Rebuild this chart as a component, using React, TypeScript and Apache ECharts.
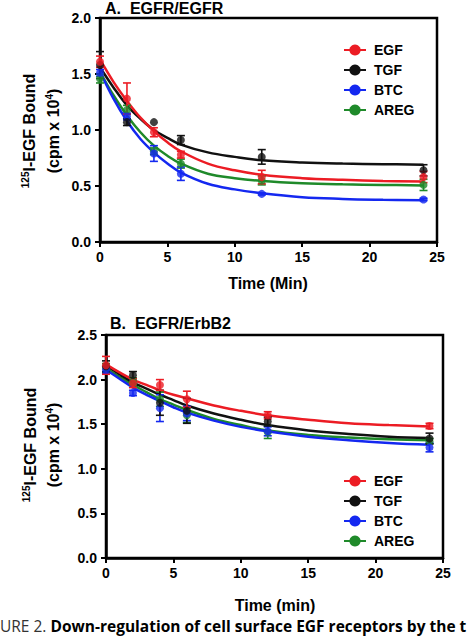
import React, { useEffect, useRef } from "react";
import * as echarts from "echarts";

// ---------- data ----------
const seriesNames = ["EGF", "TGF", "BTC", "AREG"];
const seriesColors = ["#ec1c24", "#111111", "#1428f0", "#1f8a2a"];

const timePoints = [0, 2, 4, 6, 12, 24];
const fitTimes = [0, 1, 2, 3, 4, 5, 6, 8, 10, 12, 15, 18, 21, 24];

const xTicks = [0, 5, 10, 15, 20, 25];

// Panel A: EGFR/EGFR
const egfA = [1.61, 1.28, 0.98, 0.78, 0.58, 0.58];
const egfAErr = [0.05, 0.14, 0.04, 0.03, 0.06, 0.05];
const tgfA = [1.58, 1.07, 1.07, 0.91, 0.76, 0.64];
const tgfAErr = [0.12, 0.03, 0.0, 0.04, 0.065, 0.05];
const btcA = [1.51, 1.12, 0.79, 0.61, 0.43, 0.38];
const btcAErr = [0.03, 0.03, 0.07, 0.06, 0.01, 0.01];
const aregA = [1.46, 1.18, 0.81, 0.7, 0.55, 0.51];
const aregAErr = [0.04, 0.04, 0.03, 0.04, 0.04, 0.05];

const egfAFit = [1.63, 1.43, 1.26, 1.11, 0.99, 0.89, 0.81, 0.7, 0.64, 0.6, 0.57, 0.555, 0.545, 0.54];
const tgfAFit = [1.56, 1.38, 1.22, 1.1, 1.0, 0.93, 0.87, 0.8, 0.76, 0.73, 0.71, 0.7, 0.695, 0.69];
const btcAFit = [1.52, 1.28, 1.08, 0.92, 0.8, 0.7, 0.62, 0.52, 0.47, 0.435, 0.4, 0.385, 0.377, 0.372];
const aregAFit = [1.52, 1.31, 1.13, 0.98, 0.86, 0.77, 0.7, 0.61, 0.57, 0.545, 0.525, 0.515, 0.51, 0.505];

// Panel B: EGFR/ErbB2
const egfB = [2.16, 1.96, 1.94, 1.78, 1.6, 1.48];
const egfBErr = [0.1, 0.05, 0.06, 0.09, 0.04, 0.03];
const tgfB = [2.15, 2.05, 1.74, 1.65, 1.53, 1.34];
const tgfBErr = [0.06, 0.04, 0.14, 0.14, 0.05, 0.06];
const btcB = [2.11, 1.85, 1.68, 1.62, 1.42, 1.24];
const btcBErr = [0.04, 0.03, 0.15, 0.08, 0.05, 0.05];
const aregB = [2.13, 1.98, 1.78, 1.6, 1.41, 1.31];
const aregBErr = [0.05, 0.04, 0.08, 0.08, 0.07, 0.03];

const egfBFit = [2.17, 2.08, 2.0, 1.94, 1.88, 1.83, 1.79, 1.71, 1.65, 1.6, 1.55, 1.51, 1.49, 1.475];
const tgfBFit = [2.16, 2.06, 1.97, 1.9, 1.83, 1.77, 1.71, 1.62, 1.55, 1.49, 1.43, 1.39, 1.36, 1.345];
const btcBFit = [2.11, 2.01, 1.91, 1.83, 1.76, 1.69, 1.63, 1.54, 1.47, 1.42, 1.36, 1.32, 1.29, 1.27];
const aregBFit = [2.13, 2.03, 1.94, 1.86, 1.78, 1.72, 1.66, 1.56, 1.49, 1.43, 1.38, 1.35, 1.33, 1.32];

const panelATitle = "A.  EGFR/EGFR";
const panelBTitle = "B.  EGFR/ErbB2";
const xTitleA = "Time (Min)";
const xTitleB = "Time (min)";
const captionLead = "URE 2. ";
const captionBold = "Down-regulation of cell surface EGF receptors by the t";

const FONT = "Liberation Sans, Arial, sans-serif";

type SetDef = { name: string; color: string; mean: number[]; err: number[]; fit: number[] };

const setsA: SetDef[] = [
  { name: "AREG", color: seriesColors[3], mean: aregA, err: aregAErr, fit: aregAFit },
  { name: "BTC", color: seriesColors[2], mean: btcA, err: btcAErr, fit: btcAFit },
  { name: "TGF", color: seriesColors[1], mean: tgfA, err: tgfAErr, fit: tgfAFit },
  { name: "EGF", color: seriesColors[0], mean: egfA, err: egfAErr, fit: egfAFit },
];
const setsB: SetDef[] = [
  { name: "AREG", color: seriesColors[3], mean: aregB, err: aregBErr, fit: aregBFit },
  { name: "BTC", color: seriesColors[2], mean: btcB, err: btcBErr, fit: btcBFit },
  { name: "TGF", color: seriesColors[1], mean: tgfB, err: tgfBErr, fit: tgfBFit },
  { name: "EGF", color: seriesColors[0], mean: egfB, err: egfBErr, fit: egfBFit },
];

function buildPanel(sets: SetDef[], gi: number, tag: string) {
  const lines: any[] = [];
  const others: any[] = [];
  sets.forEach((s) => {
    lines.push({
      name: s.name,
      type: "line",
      xAxisIndex: gi,
      yAxisIndex: gi,
      data: fitTimes.map((t, i) => [t, s.fit[i]]),
      smooth: 0.4,
      symbol: "circle",
      symbolSize: 7,
      showSymbol: false,
      lineStyle: { color: s.color, width: 2.5 },
      itemStyle: { color: s.color },
      z: 2,
    });
    others.push({
      name: s.name + "-err-" + tag,
      type: "custom",
      xAxisIndex: gi,
      yAxisIndex: gi,
      data: timePoints
        .map((t, i) => [t, s.mean[i] - s.err[i], s.mean[i] + s.err[i], s.err[i]])
        .filter((d) => d[3] > 0),
      encode: { x: 0, y: [1, 2] },
      renderItem: (params: any, api: any) => {
        const x = api.value(0);
        const lo = api.coord([x, api.value(1)]);
        const hi = api.coord([x, api.value(2)]);
        const w = 4;
        const st = { stroke: s.color, lineWidth: 1.6 };
        return {
          type: "group",
          children: [
            { type: "line", shape: { x1: lo[0], y1: lo[1], x2: hi[0], y2: hi[1] }, style: st },
            { type: "line", shape: { x1: lo[0] - w, y1: lo[1], x2: lo[0] + w, y2: lo[1] }, style: st },
            { type: "line", shape: { x1: hi[0] - w, y1: hi[1], x2: hi[0] + w, y2: hi[1] }, style: st },
          ],
        };
      },
      z: 3,
    });
    others.push({
      name: s.name + "-pts-" + tag,
      type: "scatter",
      xAxisIndex: gi,
      yAxisIndex: gi,
      data: timePoints.map((t, i) => [t, s.mean[i]]),
      symbol: "circle",
      symbolSize: 8,
      itemStyle: { color: s.color },
      z: 4,
    });
  });
  return { lines, others };
}

function axisPair(gi: number, yMax: number) {
  const common = {
    gridIndex: gi,
    type: "value" as const,
    axisLine: { show: true, lineStyle: { color: "#000", width: 2.5 } },
    axisTick: { show: true, length: 5, lineStyle: { color: "#000", width: 2 } },
    splitLine: { show: false },
  };
  return {
    x: {
      ...common,
      min: xTicks[0],
      max: xTicks[xTicks.length - 1],
      interval: 5,
      axisLabel: { color: "#000", fontSize: 14, fontWeight: "bold", fontFamily: FONT, margin: 8 },
    },
    y: {
      ...common,
      min: 0,
      max: yMax,
      interval: 0.5,
      axisLabel: {
        color: "#000",
        fontSize: 14,
        fontWeight: "bold",
        fontFamily: FONT,
        margin: 9,
        formatter: (v: number) => v.toFixed(1),
      },
    },
  };
}

function yTitle(cx1: number, cx2: number, cy: number) {
  const base = { fill: "#000", fontFamily: FONT, fontWeight: "bold" };
  const rich = {
    s: { fontSize: 10, fontWeight: "bold", fontFamily: FONT, verticalAlign: "top", lineHeight: 18 },
    m: { fontSize: 16, fontWeight: "bold", fontFamily: FONT, lineHeight: 18 },
  };
  return [
    {
      type: "text",
      x: cx1,
      y: cy,
      rotation: Math.PI / 2,
      style: { text: "{s|125}{m|I-EGF Bound}", align: "center", verticalAlign: "middle", ...base, rich },
    },
    {
      type: "text",
      x: cx2,
      y: cy,
      rotation: Math.PI / 2,
      style: { text: "{m|(cpm x 10}{s|4}{m|)}", align: "center", verticalAlign: "middle", ...base, rich },
    },
  ];
}

function plainText(text: string, x: number, y: number, align: string, size = 16) {
  return {
    type: "text",
    x,
    y,
    style: { text, align, verticalAlign: "middle", fill: "#000", fontFamily: FONT, fontWeight: "bold", fontSize: size },
  };
}

export default function App() {
  const ref = useRef<HTMLDivElement>(null);
  useEffect(() => {
    if (!ref.current) return;
    const chart = echarts.init(ref.current, null, { renderer: "svg" });
    const pA = buildPanel(setsA, 0, "A");
    const pB = buildPanel(setsB, 1, "B");
    const axA = axisPair(0, 2.0);
    const axB = axisPair(1, 2.5);
    const legendCommon = {
      orient: "vertical",
      left: 338,
      itemWidth: 22,
      itemHeight: 14,
      itemGap: 6,
      data: seriesNames,
      selectedMode: false,
      textStyle: { color: "#000", fontSize: 14, fontWeight: "bold", fontFamily: FONT, padding: [0, 0, 0, 3] },
    };
    chart.setOption({
      animation: false,
      backgroundColor: "#fff",
      textStyle: { fontFamily: FONT },
      grid: [
        { left: 100, top: 18, width: 337, height: 224, show: true, borderColor: "#000", borderWidth: 2.5, backgroundColor: "transparent" },
        { left: 106, top: 335, width: 337, height: 223, show: true, borderColor: "#000", borderWidth: 2.5, backgroundColor: "transparent" },
      ],
      xAxis: [axA.x, axB.x],
      yAxis: [axA.y, axB.y],
      legend: [
        { ...legendCommon, top: 38 },
        { ...legendCommon, top: 469 },
      ],
      series: [...pA.lines, ...pB.lines, ...pA.others, ...pB.others],
      graphic: [
        plainText(panelATitle, 105, 8, "left"),
        plainText(panelBTitle, 110, 323, "left"),
        plainText(xTitleA, 268, 283, "center"),
        plainText(xTitleB, 275, 605, "center"),
        ...yTitle(29, 53, 131),
        ...yTitle(30, 53, 445),
        {
          type: "text",
          x: 0,
          y: 626,
          style: {
            text: "{n|" + captionLead + "}{b|" + captionBold + "}",
            verticalAlign: "middle",
            align: "left",
            fill: "#000",
            rich: {
              n: { fontSize: 15.5, fontFamily: "Open Sans, sans-serif", fontWeight: "normal", fill: "#333" },
              b: { fontSize: 15.5, fontFamily: "Open Sans, sans-serif", fontWeight: "bold", fill: "#000" },
            },
          },
        },
      ],
    });
    return () => chart.dispose();
  }, []);
  return (
    <div
      ref={ref}
      style={{ position: "absolute", left: 0, top: 0, width: 474, height: 638, background: "#fff" }}
    />
  );
}
